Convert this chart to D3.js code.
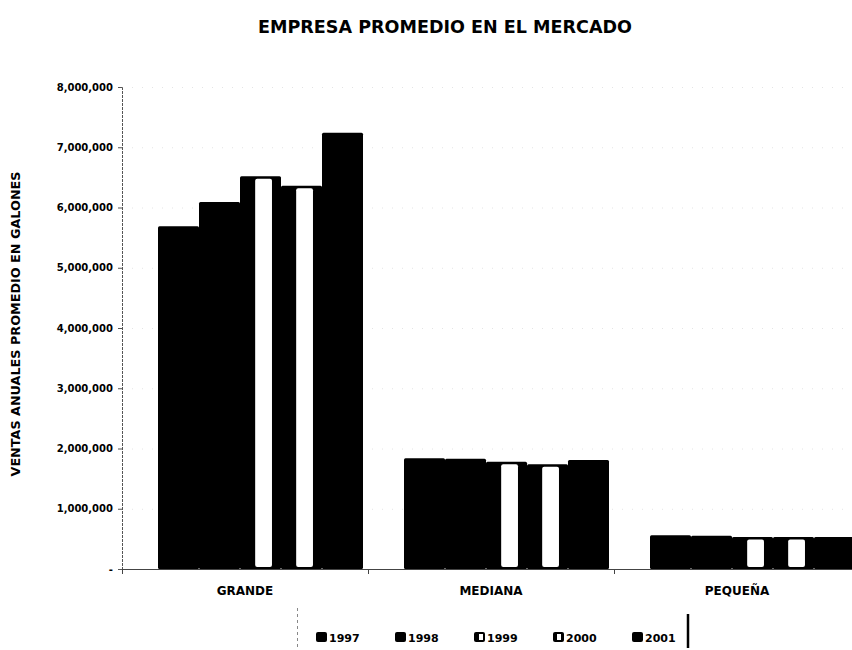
<!DOCTYPE html>
<html>
<head>
<meta charset="utf-8">
<script src="https://cdn.jsdelivr.net/npm/d3@7"></script>
<style>
  body { margin: 0; background: #fff; }
  text { font-family: "Comic Sans MS", "DejaVu Sans", sans-serif; font-weight: bold; fill: #000; }
</style>
</head>
<body>
<div class="svg-container"></div>
<script>
// chart values
const categories = ["GRANDE", "MEDIANA", "PEQUEÑA"];
const years = ["1997", "1998", "1999", "2000", "2001"];
const sales1997 = [5690000, 1840000, 560000];
const sales1998 = [6090000, 1830000, 550000];
const sales1999 = [6520000, 1780000, 530000];
const sales2000 = [6360000, 1740000, 530000];
const sales2001 = [7240000, 1810000, 530000];
const yTicks = [0, 1000000, 2000000, 3000000, 4000000, 5000000, 6000000, 7000000, 8000000];

document.addEventListener("DOMContentLoaded", () => {
  const W = 852, H = 650;
  const plot = { left: 122, top: 87, bottom: 569, catWidth: 246 };

  const series = [sales1997, sales1998, sales1999, sales2000, sales2001];
  const data = [];
  categories.forEach((c, i) => {
    years.forEach((yr, j) => data.push({ cat: c, year: yr, value: series[j][i] }));
  });
  // years drawn with a hollow (light) fill in the scan
  const hollow = ["1999", "2000"];

  const svg = d3.select(".svg-container").append("svg")
    .attr("width", W)
    .attr("height", H);

  // scales
  const x0 = d3.scaleBand()
    .domain(categories)
    .range([plot.left, plot.left + plot.catWidth * categories.length]);
  const x1 = d3.scaleBand()
    .domain(years)
    .range([36, 36 + 205]);
  const y = d3.scaleLinear()
    .domain([0, 8000000])
    .range([plot.bottom, plot.top]);

  // very faint dotted gridlines (barely survived the scan)
  svg.append("g")
    .selectAll("line")
    .data(yTicks.slice(1))
    .enter().append("line")
    .attr("x1", plot.left)
    .attr("x2", W)
    .attr("y1", d => y(d) + 0.5)
    .attr("y2", d => y(d) + 0.5)
    .attr("stroke", "#e4e4e4")
    .attr("stroke-dasharray", "1,9");

  // bars
  const bars = svg.append("g").selectAll("g")
    .data(data)
    .enter().append("g");

  bars.append("rect")
    .attr("x", d => x0(d.cat) + x1(d.year))
    .attr("y", d => y(d.value))
    .attr("width", x1.bandwidth())
    .attr("height", d => y(0) - y(d.value))
    .attr("rx", 1.5)
    .attr("fill", "#000");

  bars.filter(d => hollow.includes(d.year))
    .append("rect")
    .attr("x", d => x0(d.cat) + x1(d.year) + x1.bandwidth() * 0.37)
    .attr("y", d => y(d.value) + 2.5)
    .attr("width", x1.bandwidth() * 0.41)
    .attr("height", d => y(0) - y(d.value) - 4.5)
    .attr("rx", 2)
    .attr("fill", "#fff");

  // y axis
  const yAxis = d3.axisLeft(y)
    .tickValues(yTicks)
    .tickSize(4)
    .tickPadding(5)
    .tickFormat(d => d === 0 ? "-" : d3.format(",")(d));

  const gy = svg.append("g")
    .attr("transform", "translate(" + plot.left + ",0)")
    .call(yAxis);
  gy.select(".domain").attr("stroke", "#555").attr("stroke-dasharray", "3,1");
  gy.selectAll(".tick line").attr("stroke", "#555");
  gy.selectAll(".tick text")
    .style("font-family", "'DejaVu Sans', sans-serif")
    .style("font-size", "10px")
    .style("font-weight", "bold");

  // x axis line with ticks at category boundaries
  svg.append("line")
    .attr("x1", plot.left)
    .attr("x2", W)
    .attr("y1", plot.bottom + 0.5)
    .attr("y2", plot.bottom + 0.5)
    .attr("stroke", "#444");

  svg.append("g").selectAll("line")
    .data(categories)
    .enter().append("line")
    .attr("x1", d => x0(d) + 0.5)
    .attr("x2", d => x0(d) + 0.5)
    .attr("y1", plot.bottom)
    .attr("y2", plot.bottom + 5)
    .attr("stroke", "#444");

  svg.append("g").selectAll("text")
    .data(categories)
    .enter().append("text")
    .attr("x", d => x0(d) + x0.bandwidth() / 2)
    .attr("y", 595)
    .attr("text-anchor", "middle")
    .style("font-size", "12px")
    .text(d => d);

  // title
  svg.append("text")
    .attr("x", 445)
    .attr("y", 33)
    .attr("text-anchor", "middle")
    .attr("textLength", 374)
    .attr("lengthAdjust", "spacingAndGlyphs")
    .style("font-size", "18px")
    .text("EMPRESA PROMEDIO EN EL MERCADO");

  // y label
  svg.append("text")
    .attr("transform", "translate(20,324) rotate(-90)")
    .attr("text-anchor", "middle")
    .attr("textLength", 305)
    .attr("lengthAdjust", "spacingAndGlyphs")
    .style("font-size", "12px")
    .text("VENTAS ANUALES PROMEDIO EN GALONES");

  // legend
  const legendX = d3.scalePoint()
    .domain(years)
    .range([316, 632]);

  svg.append("line")
    .attr("x1", 297.5).attr("x2", 297.5)
    .attr("y1", 608).attr("y2", 650)
    .attr("stroke", "#888")
    .attr("stroke-dasharray", "3,3");
  svg.append("line")
    .attr("x1", 688).attr("x2", 688)
    .attr("y1", 614).attr("y2", 648)
    .attr("stroke", "#000")
    .attr("stroke-width", 2.5);

  const legend = svg.append("g").selectAll("g")
    .data(years)
    .enter().append("g")
    .attr("transform", d => "translate(" + legendX(d) + ",632)");

  legend.append("rect")
    .attr("width", 11)
    .attr("height", 10)
    .attr("rx", 2)
    .attr("fill", "#000");

  legend.filter(d => hollow.includes(d))
    .append("rect")
    .attr("x", d => d === "1999" ? 5 : 4)
    .attr("y", 2)
    .attr("width", 4)
    .attr("height", 6)
    .attr("fill", "#fff");

  legend.append("text")
    .attr("x", 13)
    .attr("y", 10)
    .style("font-family", "'DejaVu Sans', sans-serif")
    .style("font-size", "11px")
    .text(d => d);
});
</script>
</body>
</html>
